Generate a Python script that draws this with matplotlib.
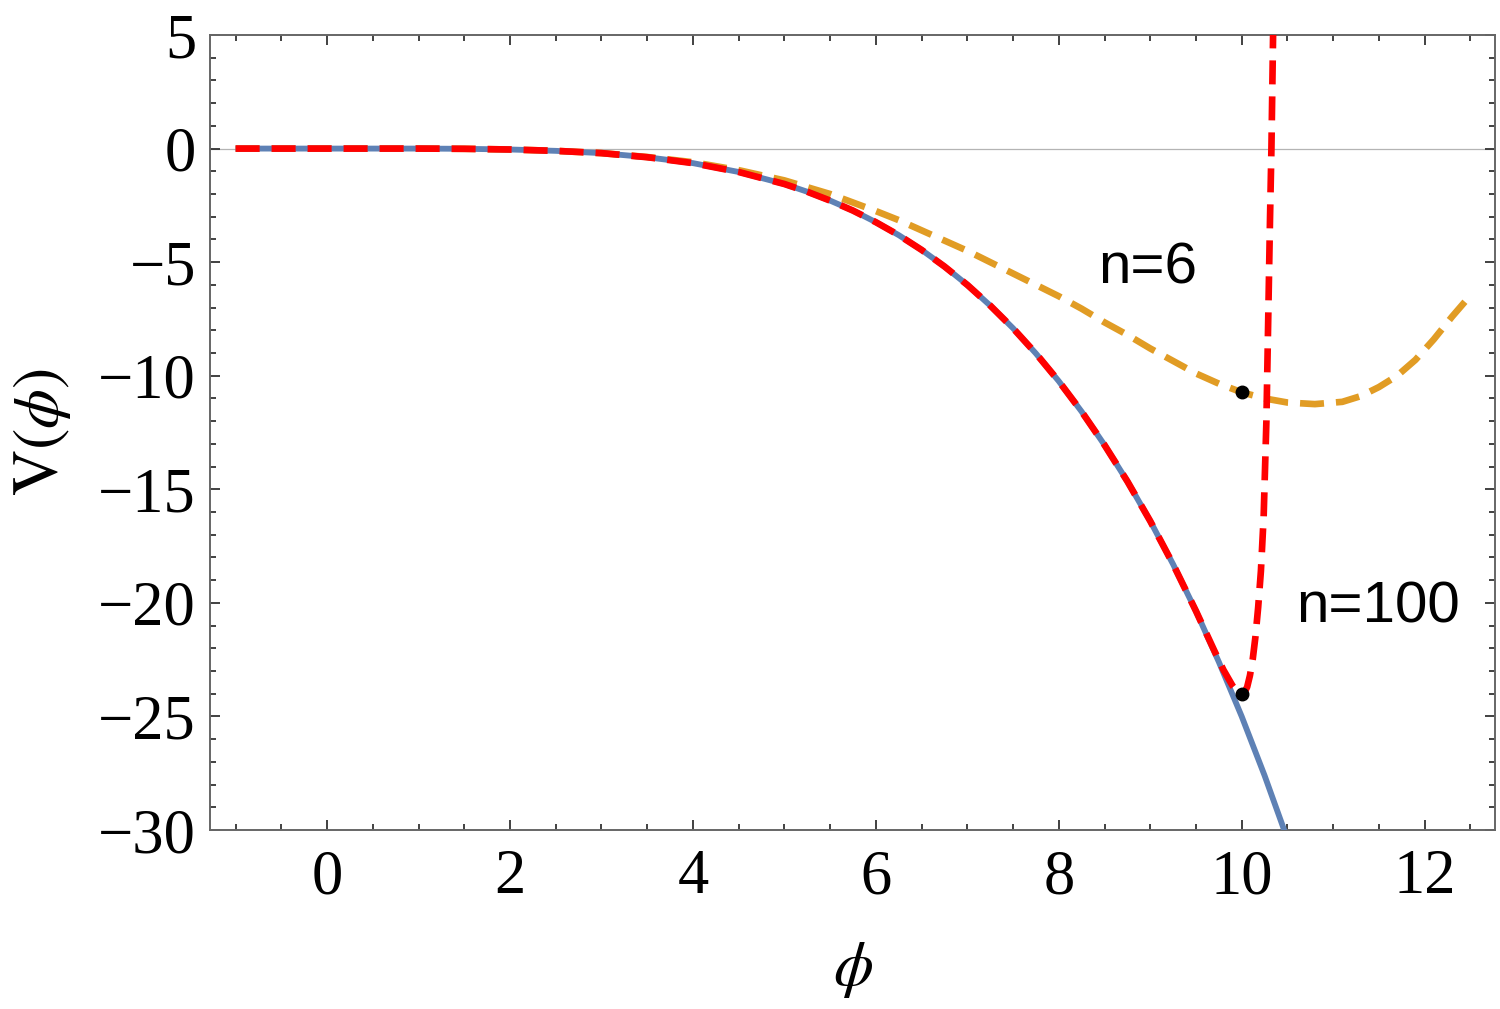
import matplotlib
matplotlib.use("Agg")
import matplotlib.pyplot as plt
from matplotlib.ticker import MultipleLocator

# values
phi_base = [-1.0, 0.0, 1.0, 1.5, 2.0, 2.5, 3.0, 3.5, 4.0, 4.5, 5.0, 5.25, 5.5, 5.75,
            6.0, 6.25, 6.5, 6.75, 7.0, 7.25, 7.5, 7.75, 8.0, 8.25, 8.5, 8.75, 9.0,
            9.25, 9.5, 9.75, 10.0, 10.25, 10.5]
v_base = [0.0, 0.0, 0.0, -0.01, -0.04, -0.1, -0.2, -0.38, -0.64, -1.03, -1.56, -1.9,
          -2.29, -2.73, -3.24, -3.81, -4.46, -5.19, -6.0, -6.91, -7.91, -9.02, -10.24,
          -11.58, -13.05, -14.65, -16.4, -18.3, -20.36, -22.6, -25.0, -27.6, -30.4]

phi_n6 = [-1.0, 0.0, 1.0, 1.5, 2.0, 2.5, 3.0, 3.5, 4.0, 4.5, 5.0, 5.5, 6.0, 6.25, 6.5,
          6.75, 7.0, 7.25, 7.5, 7.75, 8.0, 8.25, 8.5, 8.75, 9.0, 9.25, 9.5, 9.75, 10.0,
          10.25, 10.5, 10.8, 11.1, 11.3, 11.5, 11.7, 11.9, 12.1, 12.3, 12.45]
v_n6 = [0.0, 0.0, 0.0, -0.01, -0.04, -0.1, -0.2, -0.37, -0.6, -0.95, -1.4, -2.0, -2.75,
        -3.15, -3.6, -4.05, -4.5, -5.0, -5.5, -6.0, -6.5, -7.05, -7.65, -8.2, -8.8,
        -9.35, -9.9, -10.35, -10.73, -11.0, -11.18, -11.25, -11.15, -10.9, -10.5,
        -10.0, -9.3, -8.4, -7.4, -6.7]

phi_n100 = [-1.0, 0.0, 1.0, 1.5, 2.0, 2.5, 3.0, 3.5, 4.0, 4.5, 5.0, 5.25, 5.5, 5.75,
            6.0, 6.25, 6.5, 6.75, 7.0, 7.25, 7.5, 7.75, 8.0, 8.25, 8.5, 8.75, 9.0,
            9.25, 9.5, 9.7, 9.8, 9.9, 9.95, 10.0, 10.03, 10.06, 10.09, 10.12, 10.15,
            10.18, 10.21, 10.24, 10.27, 10.29, 10.31, 10.325, 10.345]
v_n100 = [0.0, 0.0, 0.0, -0.01, -0.04, -0.1, -0.2, -0.38, -0.64, -1.03, -1.56, -1.9,
          -2.29, -2.73, -3.24, -3.81, -4.46, -5.19, -6.0, -6.91, -7.91, -9.02, -10.24,
          -11.58, -13.05, -14.65, -16.4, -18.3, -20.36, -22.1, -22.95, -23.65, -23.9,
          -24.0, -23.95, -23.7, -23.2, -22.5, -21.5, -20.2, -18.6, -16.2, -12.0, -7.5,
          -3.0, 0.0, 5.5]

min_phi = [10.0, 10.0]
min_v = [-10.73, -24.0]

labels = ["n=6", "n=100"]
label_phi = [8.97, 11.49]
label_v = [-5.3, -20.2]

plt.rcParams["mathtext.fontset"] = "stix"

fig = plt.figure(figsize=(15, 10.09), dpi=100)
ax = fig.add_axes([0.14, 0.1774, 0.8567, 0.7879])

ax.axhline(0, color="#b4b4b4", lw=0.9, zorder=1)

lw = 4.8
ax.plot(phi_n6, v_n6, color="#E19C24", lw=lw, dashes=(3.6, 1.8), zorder=2)
ax.plot(phi_base, v_base, color="#5E81B5", lw=4.2, zorder=3, solid_capstyle="butt")
ax.plot(phi_n100, v_n100, color="#FF0000", lw=lw, dashes=(3.6, 1.8), zorder=4)
ax.plot(min_phi, min_v, "o", color="black", ms=9, zorder=5)

for t, x, y in zip(labels, label_phi, label_v):
    ax.text(x, y, t, fontsize=42, family="Liberation Sans", ha="center", va="center")

ax.set_xlim(-1.28, 12.77)
ax.set_ylim(-30, 5)
ax.xaxis.set_major_locator(MultipleLocator(2))
ax.xaxis.set_minor_locator(MultipleLocator(0.5))
ax.yaxis.set_major_locator(MultipleLocator(5))
ax.yaxis.set_minor_locator(MultipleLocator(1))

ax.tick_params(which="both", direction="in", top=True, right=True, color="#333333", width=1.3)
ax.tick_params(which="major", length=7)
ax.tick_params(which="minor", length=4)
ax.tick_params(axis="x", pad=14)
ax.tick_params(axis="y", pad=10)
for lab in ax.get_xticklabels() + ax.get_yticklabels():
    lab.set_family("Liberation Serif")
    lab.set_fontsize(45)

for s in ax.spines.values():
    s.set_color("#666666")
    s.set_linewidth(1.4)

ax.set_xlabel(r"$\phi$", fontsize=46, labelpad=22)
ax.set_ylabel(r"$\mathrm{V}(\phi)$", fontsize=46, labelpad=18)

fig.savefig("out.png", dpi=100)
